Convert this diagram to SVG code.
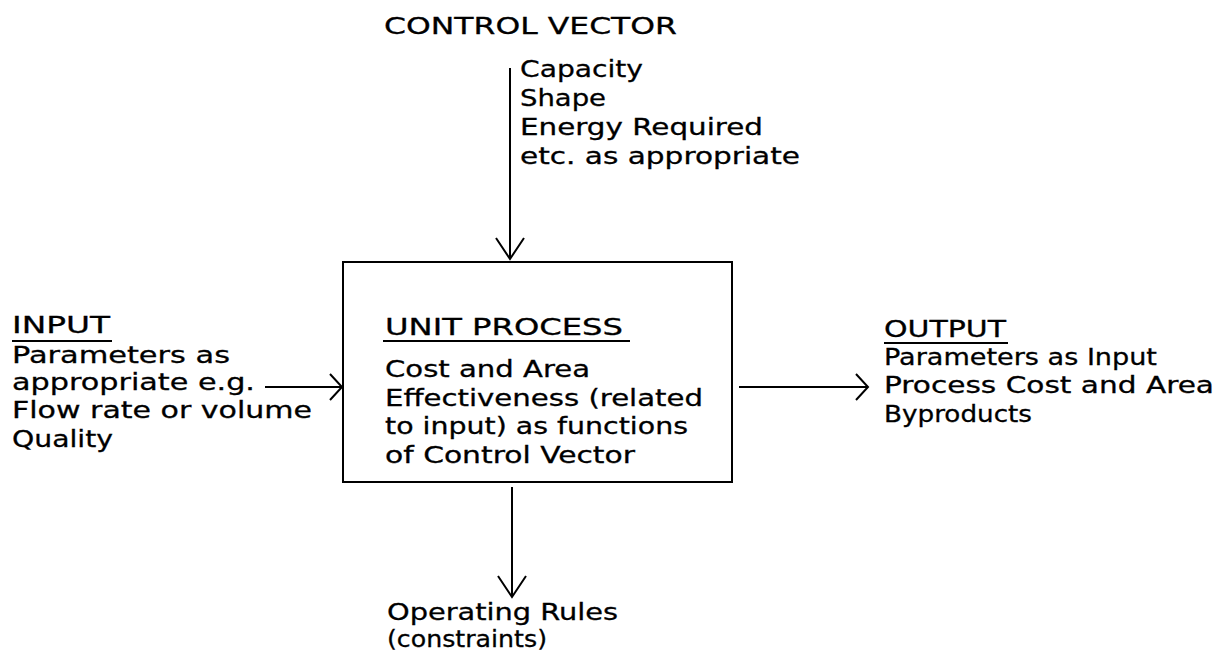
<svg xmlns="http://www.w3.org/2000/svg" width="1231" height="653" viewBox="0 0 1231 653">
<style>
  text { font-family: "DejaVu Sans", "Liberation Sans", sans-serif; font-size: 23px; fill: #000; stroke: #000; stroke-width: 0.3; }
  .ln { stroke: #000; stroke-width: 2; fill: none; }
  .ul { stroke: #000; stroke-width: 2; }
  .box { stroke: #000; stroke-width: 2; fill: #fff; }
</style>
<defs>
  <marker id="openV" viewBox="-30 -30 60 60" markerWidth="60" markerHeight="60" refX="0" refY="0" orient="auto" markerUnits="userSpaceOnUse" style="overflow:visible">
    <path d="M-21,-14 L0,0 L-21,14" fill="none" stroke="#000" stroke-width="2"/>
  </marker>
  <marker id="openH" viewBox="-30 -30 60 60" markerWidth="60" markerHeight="60" refX="0" refY="0" orient="auto" markerUnits="userSpaceOnUse" style="overflow:visible">
    <path d="M-12,-13 L0,0 L-12,13" fill="none" stroke="#000" stroke-width="2"/>
  </marker>
</defs>
<rect width="1231" height="653" fill="#fff"/>

<g id="connectors">
  <line class="ln" x1="510" y1="68" x2="510" y2="259" marker-end="url(#openV)"/>
  <line class="ln" x1="265" y1="387" x2="342" y2="387" marker-end="url(#openH)"/>
  <line class="ln" x1="739" y1="387" x2="868" y2="387" marker-end="url(#openH)"/>
  <line class="ln" x1="512" y1="487" x2="512" y2="597" marker-end="url(#openV)"/>
</g>

<g id="control-vector">
  <text x="384" y="34" textLength="293" lengthAdjust="spacingAndGlyphs">CONTROL VECTOR</text>
  <text x="520" y="77" textLength="123" lengthAdjust="spacingAndGlyphs">Capacity</text>
  <text x="520" y="106" textLength="86" lengthAdjust="spacingAndGlyphs">Shape</text>
  <text x="520" y="135" textLength="243" lengthAdjust="spacingAndGlyphs">Energy Required</text>
  <text x="520" y="164" textLength="280" lengthAdjust="spacingAndGlyphs">etc. as appropriate</text>
</g>

<g id="input">
  <text x="12" y="333" textLength="98" lengthAdjust="spacingAndGlyphs">INPUT</text>
  <line class="ul" x1="12" y1="341" x2="112" y2="341"/>
  <text x="12" y="363" textLength="218" lengthAdjust="spacingAndGlyphs">Parameters as</text>
  <text x="12" y="390" textLength="243" lengthAdjust="spacingAndGlyphs">appropriate e.g.</text>
  <text x="12" y="418" textLength="300" lengthAdjust="spacingAndGlyphs">Flow rate or volume</text>
  <text x="12" y="447" textLength="101" lengthAdjust="spacingAndGlyphs">Quality</text>
</g>

<g id="unit-process">
  <rect class="box" x="343" y="262" width="389" height="220"/>
  <text x="385" y="335" textLength="238" lengthAdjust="spacingAndGlyphs">UNIT PROCESS</text>
  <line class="ul" x1="383" y1="341" x2="630" y2="341"/>
  <text x="385" y="377" textLength="205" lengthAdjust="spacingAndGlyphs">Cost and Area</text>
  <text x="385" y="406" textLength="318" lengthAdjust="spacingAndGlyphs">Effectiveness (related</text>
  <text x="385" y="434" textLength="303" lengthAdjust="spacingAndGlyphs">to input) as functions</text>
  <text x="385" y="463" textLength="250" lengthAdjust="spacingAndGlyphs">of Control Vector</text>
</g>

<g id="output">
  <text x="884" y="337" textLength="122" lengthAdjust="spacingAndGlyphs">OUTPUT</text>
  <line class="ul" x1="884" y1="343" x2="1008" y2="343"/>
  <text x="884" y="365" textLength="273" lengthAdjust="spacingAndGlyphs">Parameters as Input</text>
  <text x="884" y="393" textLength="330" lengthAdjust="spacingAndGlyphs">Process Cost and Area</text>
  <text x="884" y="422" textLength="148" lengthAdjust="spacingAndGlyphs">Byproducts</text>
</g>

<g id="operating-rules">
  <text x="387" y="620" textLength="231" lengthAdjust="spacingAndGlyphs">Operating Rules</text>
  <text x="387" y="647" textLength="160" lengthAdjust="spacingAndGlyphs">(constraints)</text>
</g>
</svg>
